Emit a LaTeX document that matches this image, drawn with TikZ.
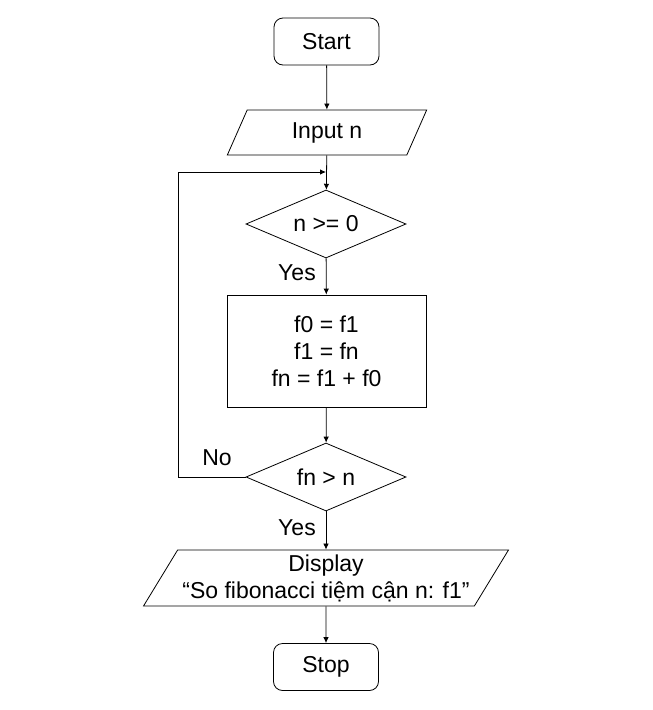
\documentclass[tikz,border=0pt]{standalone}
\usepackage{fontspec}
\setmainfont{Liberation Sans}
\usetikzlibrary{shapes.geometric}
\usetikzlibrary{arrows.meta}

\begin{document}
\begin{tikzpicture}[x=1pt, y=-1pt, line width=0.8pt,
    font=\fontsize{23pt}{27pt}\selectfont,
    every node/.style={inner sep=0pt},
    terminal/.style={draw, rounded corners=9pt, minimum width=105pt, minimum height=47pt},
    io/.style={draw, trapezium, trapezium stretches=true, minimum height=#1},
    decision/.style={draw, diamond, aspect=2.35, minimum width=160pt, minimum height=68pt},
    process/.style={draw, rectangle, align=center, minimum width=199pt, minimum height=112pt},
    arr/.style={-{Latex[length=6pt, width=5.5pt]}}]
    \useasboundingbox (0,0) rectangle (653,710);

    \node[terminal] (start) at (326.5,41.5) {Start};
    \node[io=45pt, trapezium left angle=67, trapezium right angle=113, minimum width=201pt] (input) at (327,132.5) {Input n};
    \node[decision] (cond1) at (326,224) {n >= 0};
    \node[process] (calc) at (326.5,351) {f0 = f1\\f1 = fn\\fn = f1 + f0};
    \node[decision] (cond2) at (326,477) {fn > n};
    \node[io=56pt, trapezium left angle=55, trapezium right angle=125, minimum width=366pt, align=center] (display) at (326,578) {Display\\“So fibonacci tiệm cận n: f1”};
    \node[terminal] (stop) at (326,667) {Stop};

    \node (yes1) at (297,273) {Yes};
    \node (yes2) at (297,528) {Yes};
    \node (no) at (217,458) {No};

    \coordinate (back) at (178,172);
    \coordinate (merge) at (326,172);

    \draw[arr] (start) -- (input);
    \draw[arr] (input) -- (cond1);
    \draw[arr] (cond1) -- (calc);
    \draw[arr] (calc) -- (cond2);
    \draw[arr] (cond2) -- (display);
    \draw[arr] (display) -- (stop);
    \draw[arr] (cond2.west) -| (back) -- (merge);
\end{tikzpicture}
\end{document}
